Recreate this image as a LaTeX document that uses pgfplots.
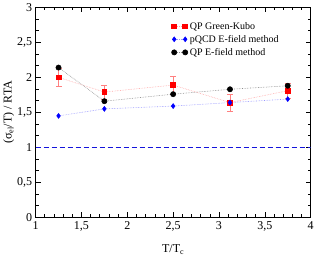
\documentclass[border=0pt]{standalone}
\usepackage{fontspec}
\setmainfont{Liberation Serif}
\usepackage{pgfplots}
\pgfplotsset{compat=1.18}
\definecolor{dashblue}{RGB}{20,20,220}
\begin{document}
\begin{tikzpicture}
\begin{axis}[
  scale only axis=true,
  width=275pt, height=210pt,
  xmin=1, xmax=4, ymin=0, ymax=3,
  xtick={1,1.5,...,4}, ytick={0,0.5,...,3},
  minor x tick num=4, minor y tick num=2,
  tick align=inside,
  major tick length=5pt, minor tick length=3pt,
  tick style={black, line width=0.6pt},
  axis line style={line width=0.7pt},
  /pgf/number format/assume math mode=true,
  /pgf/number format/use comma,
  ticklabel style={font=\fontsize{12}{12}\selectfont},
  xticklabel style={yshift=-1pt},
  label style={font=\fontsize{12}{12}\selectfont},
  xlabel={T/T\textsubscript{c}},
  ylabel={(σ\textsubscript{el}/T) / RTA},
  xlabel style={yshift=-6pt},
  ylabel style={yshift=-4pt},
  legend style={draw=none, fill=none, at={(0.49,0.945)}, anchor=north west,
    font=\fontsize{10}{11}\selectfont, row sep=0.5pt, inner sep=1pt},
  legend cell align=left,
  legend image code/.code={\draw[#1] plot coordinates {(0pt,0pt) (11pt,0pt)};},
]
\addplot[red!35, densely dotted, line width=0.6pt, mark=square*, mark size=2.4pt,
  mark options={red, solid},
  error bars/.cd, y dir=both, y explicit,
  error bar style={red!50, line width=0.6pt, solid}, error mark options={rotate=90, mark size=3pt, red!50, solid}]
  coordinates {
  (1.25,2.00) +- (0,0.13)
  (1.75,1.79) +- (0,0.10)
  (2.50,1.89) +- (0,0.13)
  (3.12,1.64) +- (0,0.12)
  (3.75,1.81) +- (0,0.11)
};
\addlegendentry{QP Green-Kubo}

\addplot[blue!40, densely dotted, line width=0.6pt, mark=diamond*, mark size=2.4pt,
  mark options={blue, solid}]
  coordinates {
  (1.25,1.45) (1.75,1.55) (2.50,1.59) (3.12,1.64) (3.75,1.69)
};
\addlegendentry{pQCD E-field method}

\addplot[black!45, densely dotted, line width=0.6pt, mark=*, mark size=2.6pt,
  mark options={black, solid}]
  coordinates {
  (1.25,2.14) (1.75,1.66) (2.50,1.76) (3.12,1.83) (3.75,1.88)
};
\addlegendentry{QP E-field method}

\addplot[draw=dashblue, dash pattern=on 5pt off 3pt, line width=1.1pt, mark=none] coordinates {(1,1) (4,1)};
\end{axis}
\end{tikzpicture}
\end{document}
